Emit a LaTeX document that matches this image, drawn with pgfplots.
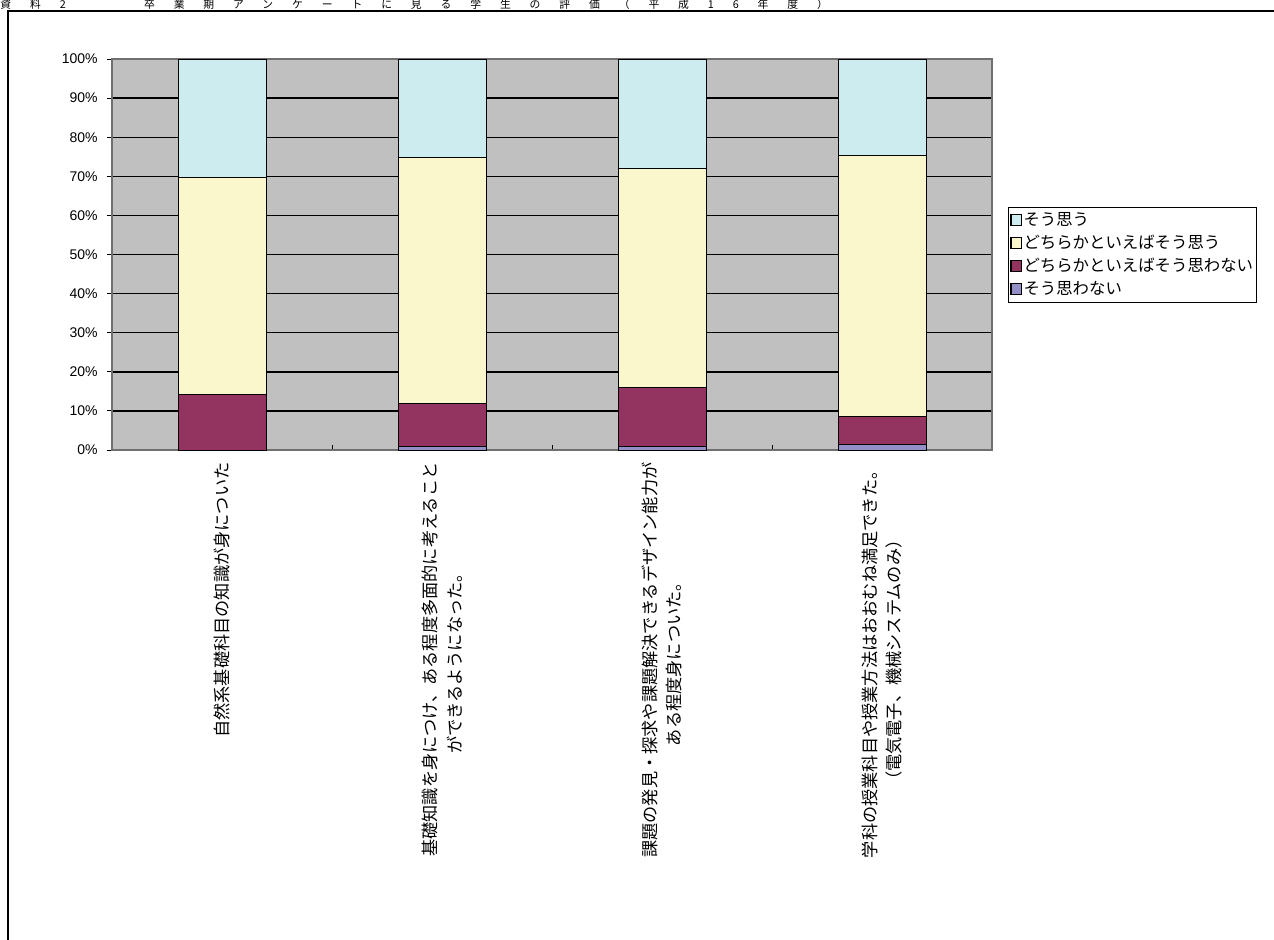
\documentclass[border=0pt]{standalone}
\usepackage{fontspec}
\setmainfont{Noto Sans CJK JP}
\newfontfamily\latin{Liberation Sans}
\newfontfamily\titlefont[LetterSpace=175]{Noto Sans CJK JP}
\usepackage{pgfplots}
\pgfplotsset{compat=1.18}
\definecolor{cblue}{HTML}{CCECF0}
\definecolor{cyellow}{HTML}{FAF7CD}
\definecolor{cmaroon}{HTML}{933360}
\definecolor{clav}{HTML}{9390C8}
\definecolor{plotgray}{HTML}{C0C0C0}
\definecolor{axgray}{HTML}{707070}
\pgfplotsset{sqlegend/.style={legend image code/.code={\draw[#1,draw=black,line width=0.6pt] (0pt,-2.7pt) rectangle (5.4pt,2.7pt);}}}
\begin{document}
\begin{tikzpicture}
\useasboundingbox (0,0) rectangle (637pt,469.5pt);
\node[anchor=base west, inner sep=0pt, font=\titlefont\fontsize{5.4}{6}\selectfont] at (0pt,465.3pt) {資料2　　卒業期アンケートに見る学生の評価（平成16年度）};
\draw[line width=1.3pt] (4pt,-10pt) -- (4pt,464pt) -- (700pt,464pt);
\begin{axis}[
  at={(56pt,244.5pt)}, anchor=south west,
  scale only axis, width=440pt, height=195.5pt,
  ybar stacked, bar width=44pt,
  xmin=-0.5, xmax=3.5, ymin=0, ymax=100,
  xtick={0.5,1.5,2.5}, xticklabels={},
  xtick style={draw=black, yshift=2.5pt, line width=0.5pt},
  extra x ticks={0,1,2,3},
  extra x tick labels={{自然系基礎科目の知識が身についた},{基礎知識を身につけ、ある程度多面的に考えること\\ができるようになった。},{課題の発見・探求や課題解決できるデザイン能力が\\ある程度身についた。},{学科の授業科目や授業方法はおおむね満足できた。\\（電気電子、機械システムのみ）}},
  extra x tick style={major tick length=0pt},
  x tick label style={rotate=90, anchor=east, align=center, inner sep=0pt, font=\fontsize{8.6}{12.3}\selectfont},
  xticklabel shift=6pt,
  ytick={0,10,...,100},
  yticklabel={\pgfmathprintnumber[assume math mode=true]{\tick}\%},
  y tick label style={inner sep=0pt, font=\latin\fontsize{7}{8}\selectfont},
  yticklabel shift=4.5pt,
  ytick pos=left, xtick pos=bottom,
  tick align=outside, major tick length=2.5pt,
  ytick style={draw=black, line width=0.5pt},
  ymajorgrids, grid style={black, line width=0.7pt},
  axis background/.style={fill=plotgray},
  axis line style={draw=axgray, line width=0.8pt},
  legend style={at={(1.018,0.6215)}, anchor=north west, draw=black, line width=0.5pt, fill=white,
    font=\fontsize{8.2}{9}\selectfont, inner xsep=1pt, inner ysep=0.8pt, row sep=0.3pt,
    nodes={inner sep=0.6pt, text height=7.8pt, text depth=2.2pt}},
  legend cell align=left,
  reverse legend,
]
\addplot[fill=clav, draw=black, line width=0.5pt, sqlegend] coordinates {(0,0) (1,1.0) (2,1.0) (3,1.5)};
\addplot[fill=cmaroon, draw=black, line width=0.5pt, sqlegend] coordinates {(0,14.3) (1,11.0) (2,14.9) (3,7.0)};
\addplot[fill=cyellow, draw=black, line width=0.5pt, sqlegend] coordinates {(0,55.5) (1,62.9) (2,56.0) (3,66.9)};
\addplot[fill=cblue, draw=black, line width=0.5pt, sqlegend] coordinates {(0,30.2) (1,25.1) (2,28.1) (3,24.6)};
\legend{そう思わない,どちらかといえばそう思わない,どちらかといえばそう思う,そう思う}
\end{axis}
\end{tikzpicture}
\end{document}
